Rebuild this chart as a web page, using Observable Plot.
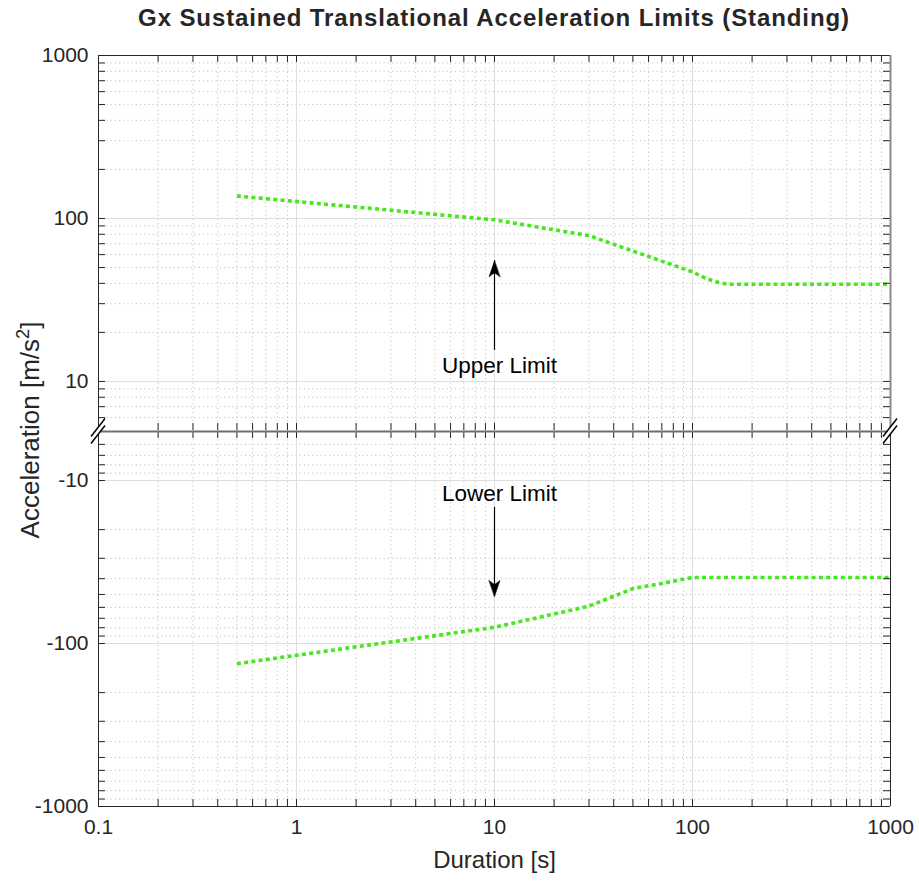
<!DOCTYPE html>
<html>
<head>
<meta charset="utf-8">
<script src="https://cdn.jsdelivr.net/npm/d3@7"></script>
<script src="https://cdn.jsdelivr.net/npm/@observablehq/plot@0.6"></script>
<style>
  body { margin: 0; background: #fff; font-family: "Liberation Sans", Arial, sans-serif; }
  #wrap { position: relative; width: 919px; height: 882px; overflow: hidden; }
  #title { height: 40px; line-height: 36px; padding-left: 98px; width: 792px; text-align: center;
           font-weight: bold; font-size: 24px; letter-spacing: 0.9px; color: #262626; white-space: nowrap; }
  #ylab { position: absolute; left: -170px; top: 415px; width: 400px; height: 30px; line-height: 30px;
          text-align: center; font-size: 26px; color: #262626; transform: rotate(-90deg); white-space: nowrap; }
  #ylab sup { font-size: 0.7em; vertical-align: 0.55em; line-height: 0; }
  svg { display: block; }
</style>
</head>
<body>
<div id="wrap">
  <div id="title">Gx Sustained Translational Acceleration Limits (Standing)</div>
  <div id="plots"></div>
  <div id="ylab">Acceleration [m/s<sup>2</sup>]</div>
</div>
<script>
// ---- data ----
const upperDuration = [0.5, 10, 30, 100, 116, 133, 150, 1000];
const upperAccel    = [137.3, 98.1, 78.5, 47, 43, 40.7, 39.5, 39.5];
const lowerDuration = [0.5, 10, 30, 50, 70, 100, 1000];
const lowerAccel    = [-133, -79.5, -59, -46, -42.8, -39.3, -39.3];

const xTickValues      = [0.1, 1, 10, 100, 1000];
const xTickLabels      = ["0.1", "1", "10", "100", "1000"];
const yTopTickValues   = [10, 100, 1000];
const yTopTickLabels   = ["10", "100", "1000"];
const yBotTickValues   = [-10, -100, -1000];
const yBotTickLabels   = ["-10", "-100", "-1000"];

const upperArrow = {x: 10, from: 15.5, to: 55, labelX: 10.6, labelY: 12.4, text: "Upper Limit"};
const lowerArrow = {x: 10, from: -14.6, to: -51.5, labelX: 10.6, labelY: -12.0, text: "Lower Limit"};

// ---- helpers ----
const minorsBetween = (lo, hi) => {
  const out = [];
  for (let e = Math.floor(Math.log10(lo)); e < Math.ceil(Math.log10(hi)); e++)
    for (let m = 2; m <= 9; m++) { const v = m * Math.pow(10, e); if (v > lo && v < hi) out.push(v); }
  return out;
};
const xMinor = minorsBetween(0.1, 1000);
const yTopMinor = minorsBetween(5, 1000);
const yBotMinor = minorsBetween(5, 1000).map(v => -v);

const upper = upperDuration.map((d, i) => ({d, a: upperAccel[i]}));
const lower = lowerDuration.map((d, i) => ({d, a: lowerAccel[i]}));

const W = 919, ML = 98, MR = 29, PH = 375, PW = W - ML - MR;
const INK = "#262626", TL = 7;
const GREEN = "#45e81c";
const font = "Liberation Sans, Arial, sans-serif";
const TICKFS = 21;

const headShape = {
  draw(context, l) {
    context.moveTo(0, -l);
    context.lineTo(-5.5, 1);
    context.lineTo(0, -3);
    context.lineTo(5.5, 1);
    context.closePath();
  }
};

function gridMarks(yMinor, yMajor) {
  return [
    Plot.ruleX(xMinor, {stroke: "#c4c4c4", strokeDasharray: "1.2,3"}),
    Plot.ruleY(yMinor, {stroke: "#c4c4c4", strokeDasharray: "1.2,3"}),
    Plot.ruleX(xTickValues, {stroke: "#dedede"}),
    Plot.ruleY(yMajor, {stroke: "#dedede"})
  ];
}
function tickMarks(yAll, topEdge, bottomEdge) {
  const xAll = xTickValues.concat(xMinor);
  const m = [
    Plot.tickY(yAll, {stroke: INK, insetRight: PW - TL}),
    Plot.tickY(yAll, {stroke: INK, insetLeft: PW - TL})
  ];
  if (topEdge) m.push(Plot.tickX(xAll, {stroke: INK, insetBottom: PH - TL}));
  if (bottomEdge) m.push(Plot.tickX(xAll, {stroke: INK, insetTop: PH - TL}));
  return m;
}
function arrowMarks(a, up) {
  return [
    Plot.ruleX([a], {x: "x", y1: "from", y2: "to", stroke: "#000", strokeWidth: 1.2}),
    Plot.vector([a], {x: "x", y: "to", length: 15, rotate: up ? 0 : 180, anchor: "end",
                      shape: headShape, fill: "#000", stroke: "#000", strokeWidth: 0.5}),
    Plot.text([a], {x: "labelX", y: "labelY", text: "text", fontSize: 22.5, fill: "#000",
                    fontFamily: font, lineAnchor: "middle"})
  ];
}

const topPlot = Plot.plot({
  width: W, height: 15 + PH, marginTop: 15, marginBottom: 0, marginLeft: ML, marginRight: MR,
  style: {overflow: "visible", background: "transparent", fontFamily: font},
  x: {type: "log", domain: [0.1, 1000], axis: null},
  y: {type: "log", domain: [5, 1000], axis: null},
  marks: [
    ...gridMarks(yTopMinor, yTopTickValues),
    Plot.line(upper, {x: "d", y: "a", stroke: GREEN, strokeWidth: 3.6, strokeDasharray: "4,3.3", strokeLinecap: "butt"}),
    ...arrowMarks(upperArrow, true),
    ...tickMarks(yTopTickValues.concat(yTopMinor), true, true),
    Plot.ruleY([1000], {stroke: INK}),
    Plot.ruleX([0.1], {stroke: INK}),
    Plot.ruleX([1000], {stroke: "#8c8c8c", strokeWidth: 2}),
    Plot.axisY(yTopTickValues, {anchor: "left", tickSize: 0, tickPadding: 10, label: null,
      tickFormat: d => yTopTickLabels[yTopTickValues.indexOf(d)], fontSize: TICKFS, fill: INK, fontFamily: font})
  ]
});

const botPlot = Plot.plot({
  width: W, height: 1 + PH + 76, marginTop: 1, marginBottom: 76, marginLeft: ML, marginRight: MR,
  style: {overflow: "visible", background: "transparent", fontFamily: font},
  x: {type: "log", domain: [0.1, 1000], axis: null},
  y: {type: "log", domain: [-1000, -5], axis: null},
  marks: [
    ...gridMarks(yBotMinor, yBotTickValues),
    Plot.line(lower, {x: "d", y: "a", stroke: GREEN, strokeWidth: 3.6, strokeDasharray: "4,3.3", strokeLinecap: "butt"}),
    ...arrowMarks(lowerArrow, false),
    ...tickMarks(yBotTickValues.concat(yBotMinor), true, true),
    Plot.ruleY([-1000], {stroke: INK}),
    Plot.ruleX([0.1], {stroke: INK}),
    Plot.ruleX([1000], {stroke: INK}),
    Plot.ruleY([-5], {stroke: "#707070", strokeWidth: 2}),
    (index, scales, values, dims) => {
      const g = d3.create("svg:g").attr("stroke", "#000").attr("stroke-width", 1.5);
      const y0 = dims.marginTop;
      for (const x0 of [dims.marginLeft, dims.width - dims.marginRight]) {
        g.append("polygon")
          .attr("points", `${x0-7},${y0+5.5} ${x0+7},${y0-12.5} ${x0+7},${y0-5.5} ${x0-7},${y0+12.5}`)
          .attr("fill", "#fff").attr("stroke", "none");
        for (const dy of [-3.5, 3.5])
          g.append("line").attr("x1", x0 - 7).attr("y1", y0 + dy + 9).attr("x2", x0 + 7).attr("y2", y0 + dy - 9);
      }
      return g.node();
    },
    Plot.axisY(yBotTickValues, {anchor: "left", tickSize: 0, tickPadding: 10, label: null,
      tickFormat: d => yBotTickLabels[yBotTickValues.indexOf(d)], fontSize: TICKFS, fill: INK, fontFamily: font}),
    Plot.axisX(xTickValues, {anchor: "bottom", tickSize: 0, tickPadding: 13, label: null,
      tickFormat: d => xTickLabels[xTickValues.indexOf(d)], fontSize: TICKFS, fill: INK, fontFamily: font}),
    Plot.text(["Duration [s]"], {frameAnchor: "bottom", dy: 54, lineAnchor: "middle", fontSize: 24, fill: INK, fontFamily: font})
  ]
});

const host = document.getElementById("plots");
host.appendChild(topPlot);
host.appendChild(botPlot);
</script>
</body>
</html>
